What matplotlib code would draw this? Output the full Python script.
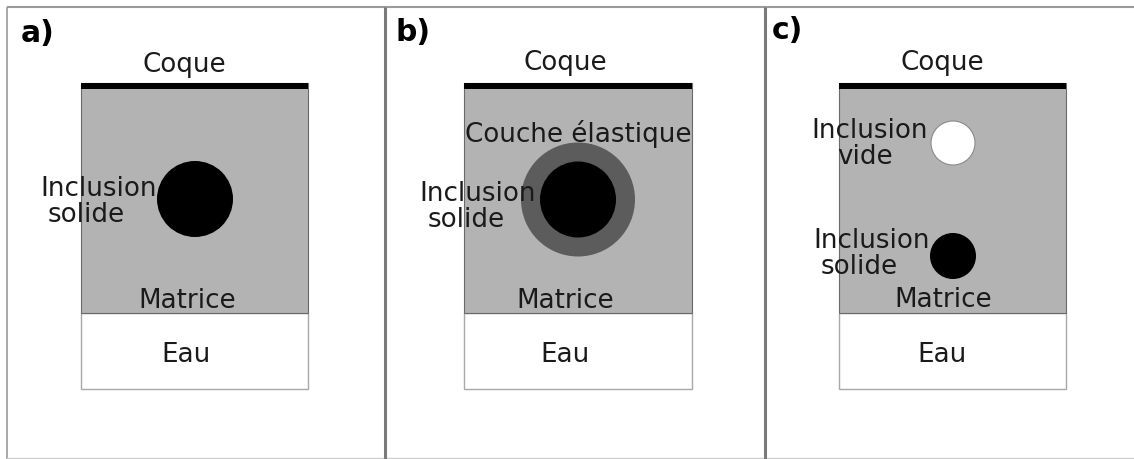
import matplotlib
matplotlib.use("Agg")
from matplotlib import pyplot as plt
from matplotlib.patches import Rectangle, Circle

# schema en pixels (x vers la droite, y vers le bas)
panneaux = ['a)', 'b)', 'c)']
panneau_lettre_x = [21, 395, 772]
panneau_lettre_y = [42, 41, 39]

matrice_gauche = [81, 464, 839]
matrice_largeur = [227, 228, 227]
matrice_haut = 83
matrice_bas = 313
eau_bas = 389
coque_epaisseur = 6

separateurs_x = [385, 765]

# cercles : (x, y, rayon, couleur)
cercles = [
    (195, 199, 38, 'black'),
    (578, 199.5, 57, '#5c5c5c'),
    (578, 199.5, 38, 'black'),
    (953, 143, 22, 'white'),
    (953, 256, 23, 'black'),
]

# textes centres : (texte, x, y ligne de base)
textes_centre = [
    ('Coque', 184, 72), ('Coque', 565, 70), ('Coque', 942, 70),
    ('Matrice', 187, 308), ('Matrice', 565, 308), ('Matrice', 943, 307),
    ('Eau', 186, 362), ('Eau', 565, 362), ('Eau', 942, 362),
    ('Couche élastique', 578, 142),
]
# textes alignes a gauche : (texte, x gauche, y ligne de base)
textes_gauche = [
    ('Inclusion', 40, 196), ('solide', 48, 222),
    ('Inclusion', 419, 201), ('solide', 428, 227),
    ('Inclusion', 811, 138), ('vide', 837, 164),
    ('Inclusion', 813, 248), ('solide', 821, 274),
]

W, H = 1134, 459
fig = plt.figure(figsize=(W / 100, H / 100), dpi=100)
ax = fig.add_axes([0, 0, 1, 1])
ax.set_xlim(0, W)
ax.set_ylim(H, 0)
ax.axis('off')

# cadre
ax.plot([7, W], [7, 7], color='#9a9a9a', lw=1.5, solid_capstyle='butt')
ax.plot([7, 7], [7, H], color='#9a9a9a', lw=1.2, solid_capstyle='butt')
ax.plot([7, W], [458, 458], color='#cfcfcf', lw=1.0)
for xs in separateurs_x:
    ax.plot([xs, xs], [7, H], color='#7a7a7a', lw=2.2, solid_capstyle='butt')

for x0, w in zip(matrice_gauche, matrice_largeur):
    ax.add_patch(Rectangle((x0, matrice_bas), w, eau_bas - matrice_bas,
                           facecolor='white', edgecolor='#a8a8a8', lw=1.0))
    ax.add_patch(Rectangle((x0, matrice_haut), w, matrice_bas - matrice_haut,
                           facecolor='#b3b3b3', edgecolor='#6a6a6a', lw=0.8))
    ax.add_patch(Rectangle((x0, matrice_haut), w, coque_epaisseur,
                           facecolor='black', edgecolor='none'))

for cx, cy, r, c in cercles:
    ec = '#8a8a8a' if c == 'white' else 'none'
    ax.add_patch(Circle((cx, cy), r, facecolor=c, edgecolor=ec, lw=0.8))

fs = 18.8
for t, x, y in textes_centre:
    ax.text(x, y, t, ha='center', va='baseline', fontsize=fs, color='#1a1a1a')
for t, x, y in textes_gauche:
    ax.text(x, y, t, ha='left', va='baseline', fontsize=fs, color='#1a1a1a')
for t, x, y in zip(panneaux, panneau_lettre_x, panneau_lettre_y):
    ax.text(x, y, t, ha='left', va='baseline', fontsize=21.5, fontweight='bold')

fig.savefig('out.png', dpi=100)
